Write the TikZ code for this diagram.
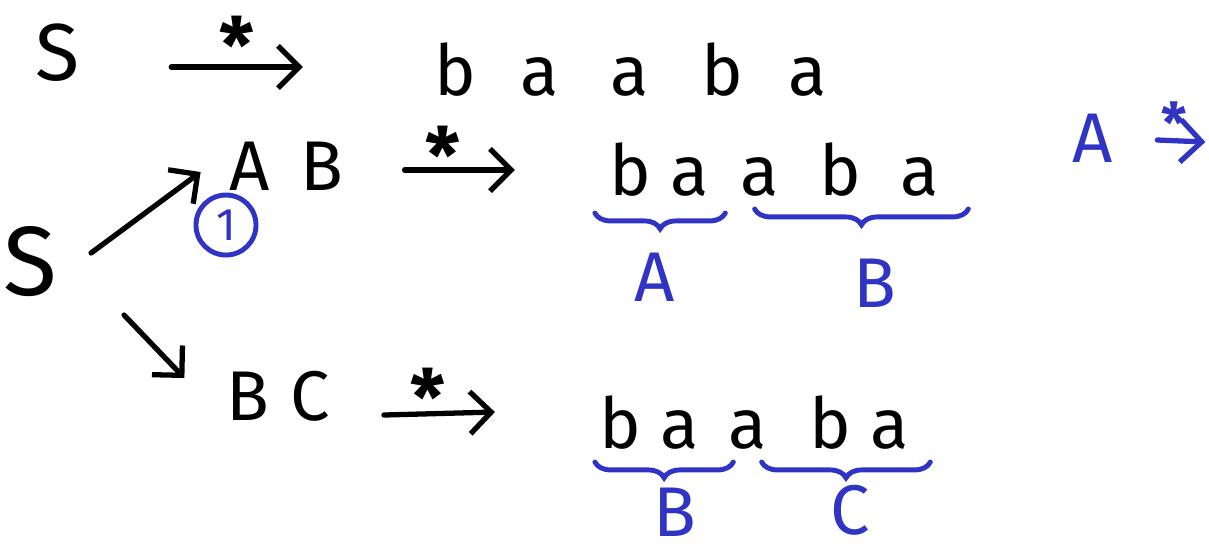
\documentclass[tikz,border=0pt]{standalone}
\usepackage{fontspec}
\setmainfont{Fira Sans}
\usetikzlibrary{arrows.meta,decorations.pathreplacing,positioning}
\definecolor{ink}{RGB}{48,52,196}

\begin{document}
\begin{tikzpicture}[
		x=0.01cm, y=-0.01cm,
		every node/.style={inner sep=1pt, anchor=base, font=\fontsize{20}{24}\selectfont},
		start/.style={font=\fontsize{28}{32}\selectfont},
		note/.style={text=ink},
		star/.style={anchor=south, inner sep=0pt, font=\fontsize{22}{24}\selectfont\bfseries},
		derive/.style={line width=1.5pt, line cap=round, -{Straight Barb[length=6pt,width=12pt,line width=1.5pt]}},
		part/.style={draw=ink, line width=1.4pt, line cap=round, decorate, decoration={brace, amplitude=4.5pt}},
		]
		\useasboundingbox (0,0) rectangle (1209,550);
		% first derivation
		\node [start, font=\fontsize{23}{26}\selectfont] (s0) at (58,80) {S};
		\foreach \ch/\x [count=\i] in {b/455,a/540,a/630,b/722,a/808}
			\node (w0-\i) at (\x,95) {\ch};
		\draw [derive] ([shift={(87,-13)}]s0.base east) -- ([shift={(-127,-28)}]w0-1.base west)
			node [star, midway, above=-0.09cm] {*};
		% second start
		\node [start] (s1) at (30,295) {S};
		\foreach \ch/\x [count=\i] in {A/250,B/322}
			\node (ab-\i) at (\x,190) {\ch};
		\foreach \ch/\x [count=\i] in {B/248,C/310}
			\node (bc-\i) at (\x,420) {\ch};
		\draw [derive] ([shift={(30,-42)}]s1.base east) -- ([shift={(-25,-18)}]ab-1.base west);
		\draw [derive] ([shift={(63,20)}]s1.base east) -- ([shift={(-38,-42)}]bc-1.base west);
		\node [note, circle, draw=ink, line width=1.4pt, minimum size=0.6cm, inner sep=0pt, anchor=center,
			font=\fontsize{13}{14}\selectfont] (one) at (226,225) {1};
		% AB branch
		\foreach \ch/\x [count=\i] in {b/630,a/690,a/760,b/840,a/920}
			\node (w1-\i) at (\x,195) {\ch};
		\draw [derive] ([shift={(57,-20)}]ab-2.base east) -- ([shift={(-90,-25)}]w1-1.base west)
			node [star, pos=0.35, above=-0.16cm] {*};
		\draw [part] ([shift={(12,18)}]w1-2.base east) -- ([shift={(-10,18)}]w1-1.base west);
		\draw [part] ([shift={(25,14)}]w1-5.base east) -- ([shift={(18,14)}]w1-3.base west);
		\node [note, anchor=center] (lA) at (655,277) {A};
		\node [note, anchor=center] (lB) at (875,283) {B};
		% BC branch
		\foreach \ch/\x [count=\i] in {b/620,a/680,a/748,b/830,a/890}
			\node (w2-\i) at (\x,448) {\ch};
		\draw [derive] ([shift={(50,-5)}]bc-2.base east) -- ([shift={(-100,-36)}]w2-1.base west)
			node [star, pos=0.4, above=-0.14cm] {*};
		\draw [part] ([shift={(30,14)}]w2-2.base east) -- ([shift={(0,14)}]w2-1.base west);
		\draw [part] ([shift={(17,14)}]w2-5.base east) -- ([shift={(37,14)}]w2-3.base west);
		\node [note, anchor=center] (lB2) at (675,512) {B};
		\node [note, anchor=center] (lC) at (850,510) {C};
		% side note
		\node [note] (nA) at (1093,162) {A};
		\draw [derive, draw=ink] ([shift={(40,-22)}]nA.base east) -- ([shift={(88,-20)}]nA.base east)
			node [star, note, pos=0.35, above=-0.05cm, font=\fontsize{16}{18}\selectfont\bfseries] {*};
	\end{tikzpicture}
\end{document}
